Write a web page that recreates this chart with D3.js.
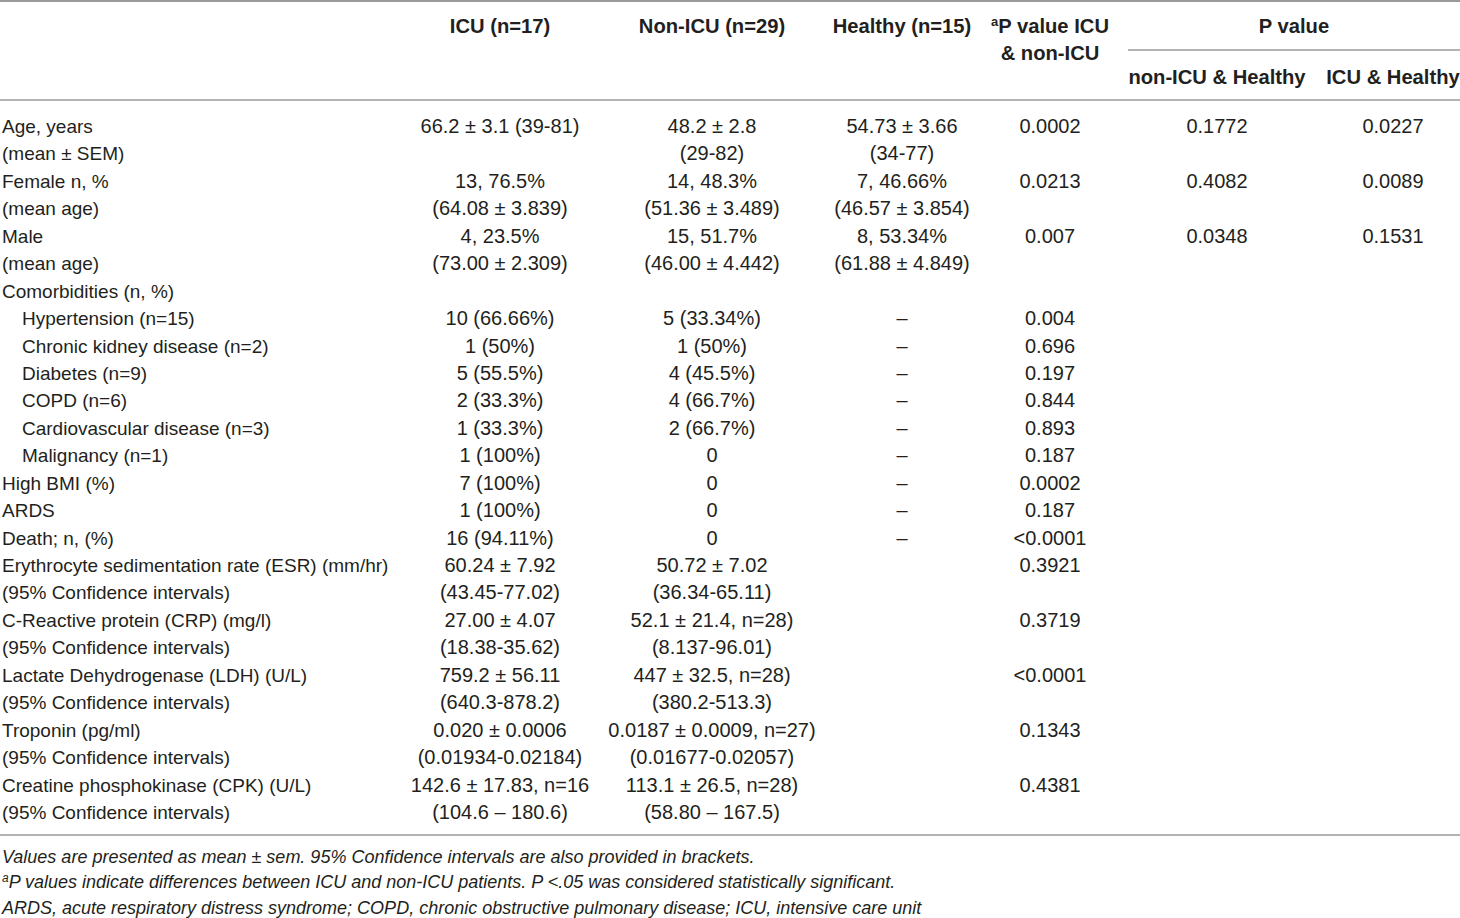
<!DOCTYPE html>
<html><head><meta charset="utf-8">
<script src="https://cdn.jsdelivr.net/npm/d3@7"></script>
<style>
html,body{margin:0;padding:0;background:#fff;}
svg text{font-family:"Liberation Sans",Arial,Helvetica,sans-serif;fill:#231f20;}
</style></head>
<body><svg id="t" width="1460" height="918"></svg>
<script>
// ---- data ----
const headers = ["ICU (n=17)", "Non-ICU (n=29)", "Healthy (n=15)"];
const pHeader = ["P value ICU", "& non-ICU"];
const pGroupHeader = "P value";
const pSubHeaders = ["non-ICU & Healthy", "ICU & Healthy"];
const labels = ["Age, years","(mean ± SEM)","Female n, %","(mean age)","Male","(mean age)","Comorbidities (n, %)",
 "Hypertension (n=15)","Chronic kidney disease (n=2)","Diabetes (n=9)","COPD (n=6)","Cardiovascular disease (n=3)","Malignancy (n=1)",
 "High BMI (%)","ARDS","Death; n, (%)","Erythrocyte sedimentation rate (ESR) (mm/hr)","(95% Confidence intervals)",
 "C-Reactive protein (CRP) (mg/l)","(95% Confidence intervals)","Lactate Dehydrogenase (LDH) (U/L)","(95% Confidence intervals)",
 "Troponin (pg/ml)","(95% Confidence intervals)","Creatine phosphokinase (CPK) (U/L)","(95% Confidence intervals)"];
const indented = [0,0,0,0,0,0,0,1,1,1,1,1,1,0,0,0,0,0,0,0,0,0,0,0,0,0];
const icu = ["66.2 ± 3.1 (39-81)","","13, 76.5%","(64.08 ± 3.839)","4, 23.5%","(73.00 ± 2.309)","",
 "10 (66.66%)","1 (50%)","5 (55.5%)","2 (33.3%)","1 (33.3%)","1 (100%)","7 (100%)","1 (100%)","16 (94.11%)",
 "60.24 ± 7.92","(43.45-77.02)","27.00 ± 4.07","(18.38-35.62)","759.2 ± 56.11","(640.3-878.2)",
 "0.020 ± 0.0006","(0.01934-0.02184)","142.6 ± 17.83, n=16","(104.6 – 180.6)"];
const nonIcu = ["48.2 ± 2.8","(29-82)","14, 48.3%","(51.36 ± 3.489)","15, 51.7%","(46.00 ± 4.442)","",
 "5 (33.34%)","1 (50%)","4 (45.5%)","4 (66.7%)","2 (66.7%)","0","0","0","0",
 "50.72 ± 7.02","(36.34-65.11)","52.1 ± 21.4, n=28)","(8.137-96.01)","447 ± 32.5, n=28)","(380.2-513.3)",
 "0.0187 ± 0.0009, n=27)","(0.01677-0.02057)","113.1 ± 26.5, n=28)","(58.80 – 167.5)"];
const healthy = ["54.73 ± 3.66","(34-77)","7, 46.66%","(46.57 ± 3.854)","8, 53.34%","(61.88 ± 4.849)","",
 "–","–","–","–","–","–","–","–","–","","","","","","","","","",""];
const pIcuNon = ["0.0002","","0.0213","","0.007","","","0.004","0.696","0.197","0.844","0.893","0.187","0.0002","0.187","<0.0001",
 "0.3921","","0.3719","","<0.0001","","0.1343","","0.4381",""];
const pNonHealthy = ["0.1772","","0.4082","","0.0348","","","","","","","","","","","","","","","","","","","","",""];
const pIcuHealthy = ["0.0227","","0.0089","","0.1531","","","","","","","","","","","","","","","","","","","","",""];
const footnotes = ["Values are presented as mean ± sem. 95% Confidence intervals are also provided in brackets.",
 "P values indicate differences between ICU and non-ICU patients. P <.05 was considered statistically significant.",
 "ARDS, acute respiratory distress syndrome; COPD, chronic obstructive pulmonary disease; ICU, intensive care unit"];
const footnoteSup = ["","a",""];

// ---- layout ----
const svg = d3.select("#t");
const W = 1460;
const y = d3.scalePoint().domain(d3.range(labels.length)).range([126, 812]);
const colX = [500, 712, 902, 1050, 1217, 1393];
const FS_LAB = 19, FS_VAL = 20, FS_HEAD = 20.2;
const lineColor = "#9a9a9a";

function hline(x1,x2,yy,w){ svg.append("line").attr("x1",x1).attr("x2",x2).attr("y1",yy).attr("y2",yy)
  .attr("stroke",lineColor).attr("stroke-width",w); }
hline(0,W,1,2);
hline(1128,W,50,1.5);
hline(0,W,100,1.5);
hline(0,W,835,1.5);

// headers
const hg = svg.append("g").attr("font-weight","bold").attr("font-size",FS_HEAD);
headers.forEach((h,i)=> hg.append("text").attr("x",colX[i]).attr("y",33).attr("text-anchor","middle").text(h));
const ph = hg.append("text").attr("x",colX[3]).attr("y",33).attr("text-anchor","middle");
ph.append("tspan").attr("font-size",13).attr("dy",-7).text("a");
ph.append("tspan").attr("dy",7).text(pHeader[0]);
hg.append("text").attr("x",colX[3]).attr("y",60).attr("text-anchor","middle").text(pHeader[1]);
hg.append("text").attr("x",(1128+W)/2).attr("y",33).attr("text-anchor","middle").text(pGroupHeader);
pSubHeaders.forEach((h,i)=> hg.append("text").attr("x",colX[4+i]).attr("y",84).attr("text-anchor","middle").text(h));

// body
const bg = svg.append("g");
const rows = d3.range(labels.length);
bg.selectAll("text.lab").data(rows).join("text").attr("class","lab").attr("font-size",FS_LAB)
  .attr("x",i=>indented[i]?22:2).attr("y",i=>y(i)+7).text(i=>labels[i]);
[icu,nonIcu,healthy,pIcuNon,pNonHealthy,pIcuHealthy].forEach((col,c)=>{
  bg.selectAll("text.c"+c).data(rows.filter(i=>col[i]!=="")).join("text").attr("class","c"+c)
    .attr("font-size",FS_VAL)
    .attr("x",colX[c]).attr("y",i=>y(i)+7).attr("text-anchor","middle").text(i=>col[i]);
});

// footnotes
const fg = svg.append("g").attr("font-size",18).attr("font-style","italic");
const fy = d3.scalePoint().domain([0,1,2]).range([856,907]);
footnotes.forEach((f,i)=>{
  const t = fg.append("text").attr("x",2).attr("y",fy(i)+6.5);
  if(footnoteSup[i]){ t.append("tspan").attr("font-size",12).attr("dy",-6).text(footnoteSup[i]); t.append("tspan").attr("dy",6).text(f); }
  else t.text(f);
});
</script></body></html>
